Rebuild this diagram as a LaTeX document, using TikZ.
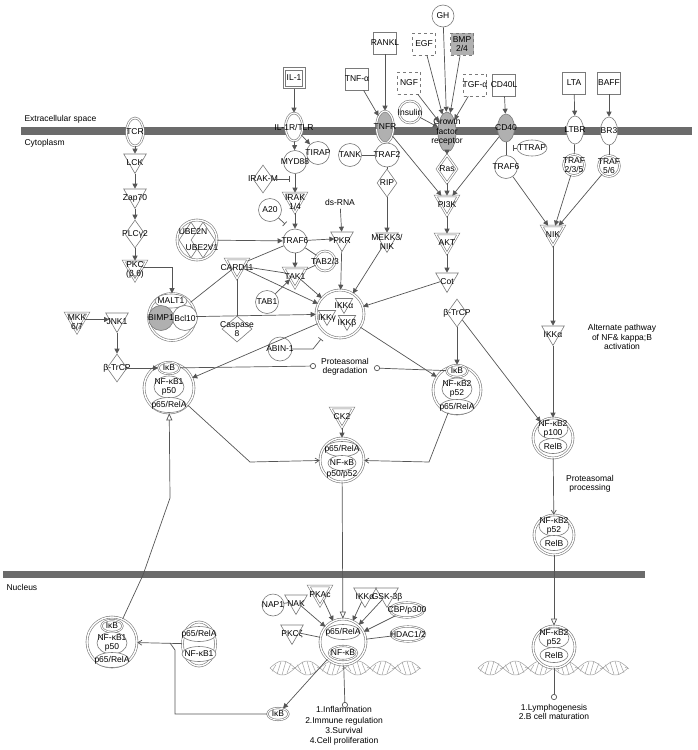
\documentclass[tikz,border=0pt]{standalone}
\usepackage{fontspec}
\setmainfont{Liberation Sans}
\usetikzlibrary{shapes.geometric, arrows.meta, positioning, calc}

\definecolor{edgegray}{HTML}{555555}
\definecolor{rimgray}{HTML}{7A7A7A}
\definecolor{membgray}{HTML}{6B6B6B}
\definecolor{recgray}{HTML}{B0B0B0}
\definecolor{dnagray}{HTML}{A0A0A0}

\tikzset{
  shp/.style={draw=rimgray, fill=white, inner sep=0pt, line width=0.6pt},
  lbl/.style={label={[inner sep=0pt, align=center]center:#1}},
  klbl/.style={label={[inner sep=0pt, align=center, yshift=-2.5pt]center:#1}},
  protein/.style={shp, circle, minimum size=23pt},
  family/.style={shp, circle, double=white, double distance=1.2pt, minimum size=21pt},
  kinase/.style={shp, regular polygon, regular polygon sides=3, shape border rotate=180, minimum size=26pt, yshift=2.5pt},
  kinfam/.style={kinase, double=white, double distance=1.2pt},
  enzyme/.style={shp, diamond, minimum width=20pt, minimum height=28pt},
  ligand/.style={shp, rectangle, minimum width=23pt, minimum height=22pt},
  growth/.style={ligand, dashed},
  receptor/.style={shp, ellipse, minimum width=17pt, minimum height=28pt},
  complex/.style={shp, circle, double=white, double distance=1.4pt, minimum size=#1},
  part/.style={shp, ellipse, minimum width=34pt, minimum height=15pt},
  partd/.style={part, double=white, double distance=0.9pt, minimum width=21pt, minimum height=12pt},
  act/.style={draw=edgegray, line width=0.7pt, -{Triangle[length=5pt, width=5pt]}},
  link/.style={draw=edgegray, line width=0.7pt},
  inhib/.style={draw=edgegray, line width=0.7pt, -{Bar[width=6pt]}},
  shuttle/.style={draw=edgegray, line width=0.7pt, -{Triangle[open, length=7pt, width=6pt]}},
  barb/.style={draw=edgegray, line width=0.7pt, -{Straight Barb[length=4pt, width=5pt]}},
  lead/.style={draw=edgegray, line width=0.7pt, -{Circle[open, length=6pt]}},
  strand/.style={draw=dnagray, line width=0.5pt},
}

\begin{document}
\begin{tikzpicture}[x=1pt, y=-1pt, font=\fontsize{8.5}{9.5}\selectfont]
\useasboundingbox (0,0) rectangle (697,750);

% membranes
\fill[membgray] (21,127) rectangle (692,135);
\fill[membgray] (3,571) rectangle (645,578);
\node[anchor=west] (extra) at (21,119) {Extracellular space};
\node[anchor=west] (cyto) at (21,143) {Cytoplasm};
\node[anchor=west] (nucl) at (3,587) {Nucleus};

% DNA
\foreach \xa in {270,478} {
  \draw[strand] plot[domain=0:150, samples=90, smooth] ({\xa+\x}, {668+7*sin(\x*7.2)});
  \draw[strand] plot[domain=0:150, samples=90, smooth] ({\xa+\x}, {668-7*sin(\x*7.2)});
  \foreach \t in {4,9,...,149}
    \draw[strand] ({\xa+\t-2}, {668+7*sin(\t*7.2)}) -- ({\xa+\t+2}, {668-7*sin(\t*7.2)});
}

% ligands
\node[ligand, minimum width=22pt, minimum height=21pt] (il1) at (294,78) {};
\node[ligand, minimum width=17pt, minimum height=16pt, lbl={IL-1}] (il1in) at (294,78) {};
\node[ligand, lbl={TNF-α}] (tnfa) at (357,79) {};
\node[ligand, lbl={RANKL}] (rankl) at (385,43) {};
\node[protein, minimum size=22pt, lbl={GH}] (gh) at (443,16) {};
\node[growth, lbl={EGF}] (egf) at (424,44) {};
\node[growth, fill=recgray, lbl={BMP\\2/4}] (bmp) at (462,44) {};
\node[growth, lbl={NGF}] (ngf) at (409,83) {};
\node[growth, lbl={TGF-α}] (tgfa) at (475,85) {};
\node[ligand, lbl={CD40L}] (cd40l) at (504,85) {};
\node[ligand, lbl={LTA}] (lta) at (574,83) {};
\node[ligand, lbl={BAFF}] (baff) at (609,83) {};
\node[family, minimum size=22pt, lbl={Insulin}] (insulin) at (410,112) {};

% receptors
\node[receptor, double=white, double distance=1.2pt, lbl={TCR}] (tcr) at (135,132) {};
\node[receptor, double=white, double distance=1.2pt, lbl={IL-1R/TLR}] (il1r) at (294,127) {};
\node[receptor, double=white, double distance=1.2pt, fill=recgray, minimum height=32pt, lbl={TNFR}] (tnfr) at (385,127) {};
\node[receptor, fill=recgray, minimum width=18pt, minimum height=40pt, lbl={Growth\\factor\\receptor}] (gfr) at (447,132) {};
\node[receptor, fill=recgray, lbl={CD40}] (cd40) at (506,128) {};
\node[receptor, lbl={LTBR}] (ltbr) at (575,130) {};
\node[receptor, lbl={BR3}] (br3) at (609,131) {};

% IL-1 / TLR branch
\node[protein, lbl={TIRAP}] (tirap) at (318,153) {};
\node[protein, lbl={MYD88}] (myd88) at (295,162) {};
\node[enzyme, lbl={IRAK-M}] (irakm) at (263,179) {};
\coordinate (irakmT) at (290,179);
\node[kinfam, klbl={IRAK\\1/4}] (irak) at (295,202) {};
\node[protein, lbl={A20}] (a20) at (270,210) {};
\coordinate (a20T) at (285,224);
\node (dsrna) at (340,202) {ds-RNA};
\node[protein, minimum size=24pt, lbl={TRAF6}] (traf6) at (295,241) {};
\node[kinase, klbl={PKR}] (pkr) at (342,241) {};
\node[complex=40pt] (ube) at (197,240) {};
\node[enzyme, minimum width=24pt, minimum height=36pt] (ube2n) at (191,240) {};
\node[enzyme, minimum width=24pt, minimum height=36pt] (ube2v1) at (203,240) {};
\node (ube2nT) at (193,232) {UBE2N};
\node (ube2v1T) at (202,248) {UBE2V1};
\node[kinfam, klbl={TAK1}] (tak1) at (295,277) {};
\node[family, minimum size=20pt, lbl={TAB2/3}] (tab23) at (325,261) {};
\node[kinfam, klbl={CARD11}] (card11) at (237,268) {};
\node[protein, lbl={TAB1}] (tab1) at (267,302) {};
\node[complex=47pt] (malt) at (172,317) {};
\node[part, minimum width=32pt, minimum height=14pt, lbl={MALT1}] (malt1) at (171,301) {};
\node[shp, circle, minimum size=25pt, lbl={Bcl10}] (bcl10) at (185,318) {};
\node[shp, circle, fill=recgray, minimum size=25pt, lbl={BIMP1}] (bimp1) at (161,318) {};
\node[enzyme, minimum width=30pt, minimum height=26pt, lbl={Caspase\\8}] (casp8) at (237,329) {};
\node[complex=48pt] (ikk) at (340,314) {};
\node[kinase, fill=none, minimum size=20pt, klbl={IKKα}] (ikka) at (344,306) {};
\node[kinase, fill=none, minimum size=20pt, klbl={IKKβ}] (ikkb) at (347,323) {};
\node[kinase, fill=none, minimum size=20pt, klbl={IKKγ}] (ikkg) at (327,318) {};
\node[protein, minimum size=24pt, lbl={ABIN-1}] (abin1) at (280,349) {};
\coordinate (abinK) at (313,349);
\coordinate (abinT) at (321,339);

% TNFR / growth factor branch
\node[protein, lbl={TANK}] (tank) at (350,155) {};
\node[protein, minimum size=24pt, lbl={TRAF2}] (traf2) at (387,155) {};
\node[enzyme, lbl={RIP}] (rip) at (387,183) {};
\node[kinase, klbl={MEKK3/\\NIK}] (mekk) at (387,242) {};
\node[enzyme, double=white, double distance=1.2pt, lbl={Ras}] (ras) at (447,169) {};
\node[kinfam, klbl={PI3K}] (pi3k) at (447,205) {};
\node[kinfam, klbl={AKT}] (akt) at (447,243) {};
\node[kinase, klbl={Cot}] (cot) at (447,282) {};
\node[enzyme, lbl={β-TrCP}] (btrcpR) at (457,313) {};

% alternate pathway
\node[part, minimum width=30pt, minimum height=16pt, lbl={TTRAP}] (ttrap) at (532,148) {};
\coordinate (ttrapT) at (513,148);
\node[protein, lbl={TRAF6}] (traf6R) at (506,167) {};
\node[family, lbl={TRAF\\2/3/5}] (traf235) at (574,165) {};
\node[family, lbl={TRAF\\5/6}] (traf56) at (609,166) {};
\node[kinfam, klbl={NIK}] (nik) at (553,235) {};
\node[kinase, klbl={IKKα}] (ikkaR) at (553,335) {};
\node[align=center] (altpath) at (622,337) {Alternate pathway\\of NF\& kappa;B\\activation};

% TCR branch
\node[kinase, klbl={LCK}] (lck) at (135,163) {};
\node[kinase, klbl={Zap70}] (zap70) at (135,198) {};
\node[enzyme, lbl={PLCγ2}] (plcg2) at (135,234) {};
\node[kinfam, klbl={PKC\\(β,θ)}] (pkc) at (135,270) {};
\node[kinfam, klbl={MKK\\6/7}] (mkk) at (77,322) {};
\node[kinase, klbl={JNK1}] (jnk1) at (117,322) {};
\node[enzyme, lbl={β-TrCP}] (btrcpL) at (117,368) {};

% cytoplasmic complexes
\node[align=center] (ptdeg) at (345,367) {Proteasomal\\degradation};
\coordinate (pdL) at (316,366);
\coordinate (pdR) at (374,368);
\node[complex=50pt] (ikbL) at (169,388) {};
\node[partd, lbl={IκB}] (ikbLi) at (169,368) {};
\node[part, minimum width=30pt, minimum height=22pt, lbl={NF-κB1\\p50}] (nfkb1L) at (169,387) {};
\node[part, lbl={p65/RelA}] (p65L) at (169,405) {};
\node[complex=48pt] (ikbR) at (457,390) {};
\node[partd, lbl={IκB}] (ikbRi) at (457,371) {};
\node[part, minimum width=30pt, minimum height=22pt, lbl={NF-κB2\\p52}] (nfkb2R) at (457,389) {};
\node[part, lbl={p65/RelA}] (p65R) at (457,407) {};
\node[kinfam, klbl={CK2}] (ck2) at (342,417) {};
\node[complex=44pt] (nfkbC) at (342,460) {};
\node[part, lbl={p65/RelA}] (p65C) at (342,449) {};
\node[part, minimum width=28pt, lbl={NF-κB}] (nfkbCi) at (342,463) {};
\node (p5052) at (342,474) {p50/p52};
\coordinate (bendL) at (250,462);
\coordinate (bendR) at (429,462);
\node[complex=40pt] (p100) at (553,438) {};
\node[part, minimum width=30pt, minimum height=20pt, lbl={NF-κB2\\p100}] (nfkb2p) at (553,429) {};
\node[part, minimum width=28pt, lbl={RelB}] (relb1) at (553,446) {};
\node[align=center] (ptproc) at (590,484) {Proteasomal\\processing};
\node[complex=40pt] (p52c) at (554,535) {};
\node[part, minimum width=30pt, minimum height=20pt, lbl={NF-κB2\\p52}] (nfkb2c) at (554,526) {};
\node[part, minimum width=28pt, lbl={RelB}] (relb2) at (554,543) {};

% nucleus
\coordinate (exp1) at (143,575);
\coordinate (exp2) at (170,498);
\node[complex=50pt] (ikbN) at (112,642) {};
\node[partd, lbl={IκB}] (ikbNi) at (112,626) {};
\node[part, minimum width=30pt, minimum height=22pt, lbl={NF-κB1\\p50}] (nfkb1N) at (112,643) {};
\node[part, lbl={p65/RelA}] (p65N) at (112,660) {};
\node[shp, ellipse, double=white, double distance=1.4pt, minimum width=33pt, minimum height=44pt] (p65n1) at (199,644) {};
\node[part, lbl={p65/RelA}] (p65n1a) at (199,634) {};
\node[part, lbl={NF-κB1}] (p65n1b) at (199,654) {};
\node[partd, lbl={IκB}] (ikbNs) at (278,714) {};
\coordinate (retK) at (175,650);
\coordinate (retJ) at (170,643);
\node[protein, minimum size=22pt, lbl={NAP1}] (nap1) at (273,605) {};
\node[kinase, klbl={NAK}] (nak) at (296,604) {};
\node[kinfam, klbl={PKAc}] (pkac) at (320,595) {};
\node[kinase, klbl={PKCζ}] (pkcz) at (292,634) {};
\node[complex=46pt] (nfkbN) at (343,642) {};
\node[part, lbl={p65/RelA}] (p65Ni) at (343,632) {};
\node[partd, minimum width=28pt, minimum height=14pt, lbl={NF-κB}] (nfkbNi) at (343,653) {};
\node[kinase, klbl={IKKα}] (ikkaN) at (365,597) {};
\node[kinase, klbl={GSK-3β}] (gsk) at (387,597) {};
\node[partd, minimum width=34pt, minimum height=15pt, lbl={CBP/p300}] (cbp) at (407,610) {};
\node[partd, minimum width=34pt, minimum height=15pt, lbl={HDAC1/2}] (hdac) at (408,634) {};
\coordinate (out1) at (345,708);
\node[align=center, font=\fontsize{8.5}{10.3}\selectfont] (outtxt1) at (344,726) {1.Inflammation\\2.Immune regulation\\3.Survival\\4.Cell proliferation};
\node[complex=42pt] (p52N) at (554,647) {};
\node[part, minimum width=30pt, minimum height=20pt, lbl={NF-κB2\\p52}] (nfkb2N) at (554,638) {};
\node[part, minimum width=28pt, lbl={RelB}] (relb3) at (554,655) {};
\coordinate (out2) at (554,700);
\node[align=center] (outtxt2) at (554,712) {1.Lymphogenesis\\2.B cell maturation};

% extracellular edges
\draw[act] (il1) -- (il1r);
\draw[act] (tnfa) -- (tnfr);
\draw[act] (rankl) -- (tnfr);
\foreach \g in {egf,gh,bmp,ngf,tgfa,insulin} \draw[act] (\g) -- (gfr);
\draw[act] (cd40l) -- (cd40);
\draw[act] (lta) -- (ltbr);
\draw[act] (baff) -- (br3);

% IL-1 / TLR edges
\draw[act] (il1r) -- (tirap);
\draw[act] (il1r) -- (myd88);
\draw[act] (myd88) -- (irak);
\draw[inhib] (irakm) -- (irakmT);
\draw[act] (irak) -- (traf6);
\draw[inhib] (a20) -- (a20T);
\draw[act] (ube) -- (traf6);
\draw[act] (traf6) -- (pkr);
\draw[act] (dsrna) -- (pkr);
\draw[act] (traf6) -- (tak1);
\draw[link] (traf6) -- (tab23) -- (tak1);
\draw[link] (card11) -- (traf6);
\draw[link] (card11) -- (tak1);
\draw[link] (malt) -- (card11);
\draw[link] (card11) -- (casp8);
\draw[act] (card11) -- (ikk);
\draw[act] (tab1) -- (tak1);
\draw[act] (tak1) -- (ikk);
\draw[act] (pkr) -- (ikk);
\draw[act] (mekk) -- (ikk);
\draw[act] (cot) -- (ikk);
\draw[act] (malt) -- (ikk);
\draw[inhib] (abin1) -- (abinK) -- (abinT);

% TCR edges
\draw[act] (tcr) -- (lck);
\draw[act] (lck) -- (zap70);
\draw[act] (zap70) -- (plcg2);
\draw[act] (plcg2) -- (pkc);
\draw[act] (pkc) -| (malt);
\draw[act] (mkk) -- (jnk1);
\draw[act] (jnk1) -- (btrcpL);
\draw[act] (btrcpL) -- (ikbLi);

% TNFR / growth factor edges
\draw[link] (tnfr) -- (traf2);
\draw[link] (tank) -- (traf2);
\draw[link] (traf2) -- (rip);
\draw[act] (rip) -- (mekk);
\draw[act] (tnfr) -- (pi3k);
\draw[act] (gfr) -- (ras);
\draw[act] (ras) -- (pi3k);
\draw[act] (cd40) -- (pi3k);
\draw[act] (pi3k) -- (akt);
\draw[act] (akt) -- (cot);
\draw[inhib] (ttrap) -- (ttrapT);

% alternate pathway edges
\draw[link] (cd40) -- (traf6R);
\draw[link] (ltbr) -- (traf235);
\draw[link] (br3) -- (traf56);
\foreach \t in {traf6R,traf235,traf56} \draw[act] (\t) -- (nik);
\draw[act] (nik) -- (ikkaR);
\draw[act] (ikkaR) -- (p100);
\draw[act] (btrcpR) -- (p100);
\draw[act] (btrcpR) -- (ikbRi);
\draw[barb] (p100) -- (p52c);

% IkB degradation
\draw[act] (ikk) -- (ikbL);
\draw[act] (ikk) -- (ikbR);
\draw[lead] (ikbLi) -- (pdL);
\draw[lead] (ikbRi) -- (pdR);
\draw[barb] (ikbL) -- (bendL) -- (nfkbC);
\draw[barb] (ikbR) -- (bendR) -- (nfkbC);
\draw[act] (ck2) -- (nfkbC);

% nuclear edges
\draw[shuttle] (nfkbC) -- (nfkbN);
\draw[shuttle] (p52c) -- (p52N);
\draw[shuttle] (ikbN) -- (exp1) -- (exp2) -- (ikbL);
\draw[link] (nap1) -- (nak);
\foreach \k in {nak,pkac,ikkaN,gsk,cbp} \draw[act] (\k) -- (nfkbN);
\draw[link] (pkcz) -- (nfkbN);
\draw[link] (hdac) -- (nfkbN);
\draw[act] (nfkbN) -- (ikbNs);
\draw[barb] (p65n1) -- (ikbN);
\draw[link] (ikbNs) -| (retK) -- (retJ);
\draw[lead] (nfkbN) -- (out1);
\draw[lead] (p52N) -- (out2);
\end{tikzpicture}
\end{document}
